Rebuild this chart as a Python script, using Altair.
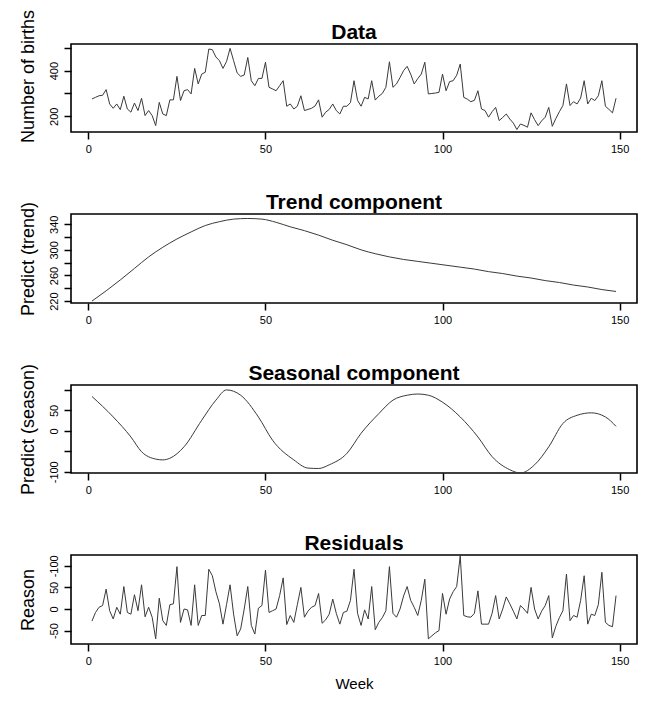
import altair as alt
import pandas as pd

# ---------------- data ----------------
weeks = list(range(1, 150))

births = [
    276, 283, 290, 292, 317, 254, 235, 254, 229, 288,
    232, 218, 258, 225, 279, 203, 225, 203, 159, 261,
    210, 203, 272, 272, 375, 269, 312, 317, 298, 410,
    342, 385, 393, 495, 492, 460, 444, 410, 440, 498,
    444, 390, 375, 381, 458, 356, 334, 366, 366, 437,
    327, 320, 312, 334, 356, 244, 254, 232, 244, 290,
    225, 230, 235, 245, 272, 196, 218, 230, 254, 225,
    210, 244, 244, 260, 356, 270, 244, 283, 276, 356,
    271, 288, 300, 327, 439, 327, 342, 370, 400, 419,
    385, 342, 365, 385, 437, 298, 300, 302, 305, 385,
    312, 352, 356, 380, 429, 283, 275, 264, 270, 312,
    232, 225, 196, 220, 239, 181, 195, 210, 188, 170,
    142, 166, 160, 152, 215, 185, 159, 180, 196, 239,
    156, 190, 220, 247, 342, 247, 264, 254, 280, 356,
    254, 279, 269, 290, 356, 244, 230, 215, 279,
]

trend_weeks = [1, 5, 9, 13, 17, 21, 25, 29, 33, 37, 41, 45, 49, 53, 57, 61, 65,
               69, 73, 77, 81, 85, 89, 93, 97, 101, 105, 109, 113, 117, 121,
               125, 129, 133, 137, 141, 145, 149]
trend_vals = [220, 236, 253, 271, 289, 304, 317, 328, 338, 344, 348, 349, 348,
              343, 336, 330, 323, 315, 308, 300, 294, 289, 285, 282, 279, 276,
              273, 270, 266, 263, 259, 256, 252, 249, 245, 242, 238, 235]

season_weeks = [1, 7, 12, 15, 19, 21, 23, 27, 32, 36, 39, 43, 48, 52, 58, 62, 65,
                68, 73, 77, 82, 86, 90, 93, 96, 100, 105, 110, 114, 119, 122,
                126, 130, 134, 138, 142, 146, 149]
season_vals = [84, 34, -15, -51, -69, -71, -67, -39, 26, 75, 100, 87, 34, -23,
               -71, -91, -92, -83, -55, -6, 42, 75, 87, 90, 87, 70, 34, -15, -63,
               -95, -103, -83, -39, 18, 38, 44, 34, 11]

residuals = [
    -28, -8, 4, 8, 46, -4, -23, 4, -12, 52,
    -8, -12, 33, -4, 56, -18, 4, -19, -69, 25,
    -27, -38, 10, 12, 98, -31, 0, -2, -38, 56,
    -38, -15, -15, 92, 77, 40, 12, -35, 10, 56,
    -12, -62, -46, 0, 52, -38, -58, 2, 8, 90,
    -8, -4, 0, 31, 72, -36, -15, -31, 10, 50,
    -19, -5, 4, 8, 36, -33, -25, -12, 23, -10,
    -35, -8, -5, 20, 92, -10, -38, -2, -23, 52,
    -48, -31, -20, -4, 98, -10, -19, 0, 30, 52,
    20, 4, -15, 20, 69, -69, -62, -55, -50, 36,
    -12, 23, 40, 52, 123, -15, -18, -19, -10, 42,
    -35, -35, -35, -10, 31, -23, 0, 28, 12, -5,
    -23, 8, 0, -10, 50, 0, -23, -5, 8, 31,
    -67, -40, -20, -4, 81, -27, -15, -19, 20, 77,
    -35, -12, -15, 10, 85, -31, -38, -41, 31,
]

x_ticks = [0, 50, 100, 150]
panel_titles = ["Data", "Trend component", "Seasonal component", "Residuals"]
y_titles = ["Number of births", "Predict (trend)", "Predict (season)", "Reason"]

FONT = "Liberation Sans"
LINE = "#3a3a3a"
XDOMAIN = [-4.92, 154.92]
W = 566


def panel(weeks_, values_, title, ytitle, ydomain, yticks, label_expr, height,
          last=False, title_y=None, smooth=False):
    df = pd.DataFrame({"week": weeks_, "value": values_})
    yaxis_kw = dict(
        title=ytitle,
        values=yticks,
        labelExpr=label_expr,
        labelAngle=270,
        labelAlign="center",
        labelBaseline="bottom",
        labelFontSize=11,
        labelFont=FONT,
        labelColor="black",
        labelPadding=5,
        labelOverlap=False,
        tickSize=7,
        tickWidth=1.5,
        tickColor="black",
        domain=False,
        grid=False,
        titleFont=FONT,
        titleFontSize=18,
        titleFontWeight="normal",
        titleColor="black",
        titleAngle=270,
        titleAlign="center",
        titleBaseline="alphabetic",
        titlePadding=18,
        minExtent=20,
        maxExtent=20,
    )
    if title_y is not None:
        yaxis_kw["titleY"] = title_y
    xaxis_kw = dict(
        values=x_ticks,
        labelFontSize=11,
        labelFont=FONT,
        labelColor="black",
        labelPadding=4,
        labelFlush=False,
        tickSize=7,
        tickWidth=1.5,
        tickColor="black",
        domain=False,
        grid=False,
        titleFont=FONT,
        titleFontSize=15,
        titleFontWeight="normal",
        titleColor="black",
        titlePadding=10,
        title="Week" if last else "",
    )
    line = (
        alt.Chart(df)
        .mark_line(color=LINE, strokeWidth=1,
                   interpolate="monotone" if smooth else "linear", clip=True)
        .encode(
            x=alt.X("week:Q", scale=alt.Scale(domain=XDOMAIN, nice=False, zero=False),
                    axis=alt.Axis(**xaxis_kw)),
            y=alt.Y("value:Q", scale=alt.Scale(domain=ydomain, nice=False, zero=False),
                    axis=alt.Axis(**yaxis_kw)),
        )
    )
    head = (
        alt.Chart(pd.DataFrame({"t": [title]}))
        .mark_text(font=FONT, fontSize=21, fontWeight="bold", color="black",
                   align="center", baseline="alphabetic")
        .encode(text="t:N", x=alt.value(W / 2), y=alt.value(-5))
    )
    return alt.layer(line, head).properties(width=W, height=height)


p1 = panel(weeks, births, panel_titles[0], y_titles[0], [131, 517], [200, 300, 400, 500],
           "datum.value == 200 || datum.value == 400 ? toString(datum.value) : ''", 88,
           title_y=32)
p2 = panel(trend_weeks, trend_vals, panel_titles[1], y_titles[1], [217, 356],
           [220, 240, 260, 280, 300, 320, 340],
           "(datum.value - 220) % 40 == 0 ? toString(datum.value) : ''", 89, smooth=True)
p3 = panel(season_weeks, season_vals, panel_titles[2], y_titles[2], [-103, 112],
           [-100, -50, 0, 50, 100],
           "datum.value == 100 || datum.value == -50 ? '' : toString(datum.value)", 88,
           smooth=True)
p4 = panel(weeks, residuals, panel_titles[3], y_titles[3], [-81, 125], [-50, 0, 50, 100],
           "datum.value == 100 ? '-100' : toString(datum.value)", 89, last=True)

chart = (
    alt.vconcat(p1, p2, p3, p4, spacing=82, bounds="flush")
    .properties(padding={"top": 0, "left": 10, "right": 0, "bottom": 0}, background="white")
    .configure_view(stroke="black", strokeWidth=1.6)
)

chart.save("out.html", embed_options={"renderer": "svg", "actions": False})
